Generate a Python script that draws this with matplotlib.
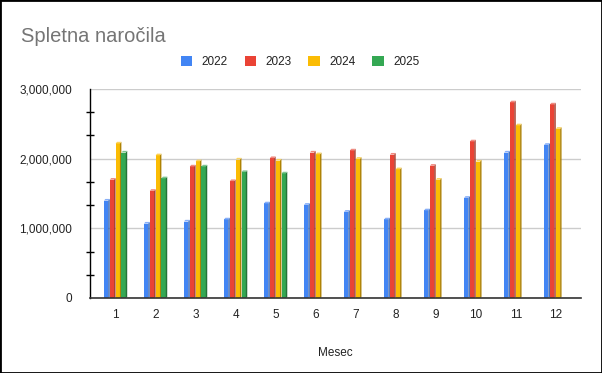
import matplotlib
matplotlib.use("Agg")
import matplotlib.pyplot as plt
import numpy as np
from matplotlib.patches import Polygon, Patch, Rectangle
from matplotlib.ticker import FixedLocator, FuncFormatter

plt.rcParams['font.family'] = ['Liberation Sans', 'DejaVu Sans']

# data
months = [1, 2, 3, 4, 5, 6, 7, 8, 9, 10, 11, 12]
years = ['2022', '2023', '2024', '2025']
y2022 = [1410000, 1080000, 1110000, 1140000, 1370000, 1350000,
         1250000, 1140000, 1270000, 1450000, 2100000, 2210000]
y2023 = [1710000, 1550000, 1900000, 1690000, 2020000, 2100000,
         2130000, 2070000, 1910000, 2260000, 2820000, 2790000]
y2024 = [2230000, 2060000, 1975000, 2000000, 1985000, 2075000,
         2010000, 1860000, 1710000, 1970000, 2490000, 2440000]
y2025 = [2100000, 1730000, 1900000, 1820000, 1800000]

series = [y2022, y2023, y2024, y2025]
front = ['#4285F4', '#EA4335', '#FBBC04', '#34A853']
side = ['#2d5fb3', '#a3301f', '#ae8203', '#237338']
top = ['#86aef8', '#f08a80', '#fdd35a', '#7cc490']

fig = plt.figure(figsize=(6.02, 3.73), dpi=100)
ax = fig.add_axes([90 / 602, 75 / 373, 491 / 602, 209 / 373])

slot = 0.146
face = 0.108
dx = slot - face - 0.002
dy = 24000

for s, vals in enumerate(series):
    for m, v in zip(months, vals):
        x0 = m - 2 * slot + s * slot
        # front face
        ax.add_patch(Rectangle((x0, 0), face, v - dy / 2, facecolor=front[s],
                               edgecolor='none', zorder=3))
        # right side
        ax.add_patch(Polygon([(x0 + face, 0), (x0 + face + dx, dy / 2),
                              (x0 + face + dx, v + dy / 2), (x0 + face, v - dy / 2)],
                             closed=True, facecolor=side[s],
                             edgecolor='none', zorder=3))
        # top
        ax.add_patch(Polygon([(x0, v - dy / 2), (x0 + face, v - dy / 2),
                              (x0 + face + dx, v + dy / 2), (x0 + dx, v + dy / 2)],
                             closed=True, facecolor=top[s],
                             edgecolor='none', zorder=3))

ax.set_xlim(0.36, 12.63)
ax.set_ylim(0, 3000000)

ax.set_xticks(months)
ax.set_xticklabels([str(m) for m in months])
ax.set_yticks([0, 1000000, 2000000, 3000000])
ax.yaxis.set_major_formatter(FuncFormatter(lambda v, p: '{:,.0f}'.format(v)))
minor = [v * 1000000 / 3 for v in [1, 2, 4, 5, 7, 8]]
ax.yaxis.set_minor_locator(FixedLocator(minor))

ax.tick_params(axis='x', length=0, pad=8, labelsize=8.5, labelcolor='#222222')
ax.tick_params(axis='y', which='major', length=0, pad=13, labelsize=8.5,
               labelcolor='#222222')
ax.tick_params(axis='y', which='minor', direction='inout', length=6,
               width=1, color='black')

ax.grid(axis='y', which='major', color='#cccccc', linewidth=1, zorder=0)
ax.set_axisbelow(True)

for sp in ['top', 'right']:
    ax.spines[sp].set_visible(False)
ax.spines['left'].set_color('black')
ax.spines['left'].set_linewidth(1)
ax.spines['bottom'].set_color('#333333')
ax.spines['bottom'].set_linewidth(1.2)
ax.spines['bottom'].set_zorder(4)

ax.set_xlabel('Mesec', fontsize=8.5, color='#222222', labelpad=19)

fig.text(21 / 602, 1 - 42 / 373, 'Spletna naročila', fontsize=14.5,
         color='#757575', ha='left', va='baseline')

handles = [Patch(facecolor=c, edgecolor='none') for c in front]
fig.legend(handles, years, loc='center', bbox_to_anchor=(300 / 602, 1 - 62 / 373),
           ncol=4, frameon=False, fontsize=8.5, handlelength=1.0,
           handleheight=1.0, handletextpad=0.75, columnspacing=1.45,
           labelcolor='#222222')

fig.add_artist(Rectangle((0, 0), 1, 1, transform=fig.transFigure,
                         fill=False, edgecolor='black', linewidth=2))

fig.savefig('out.png', dpi=100)
